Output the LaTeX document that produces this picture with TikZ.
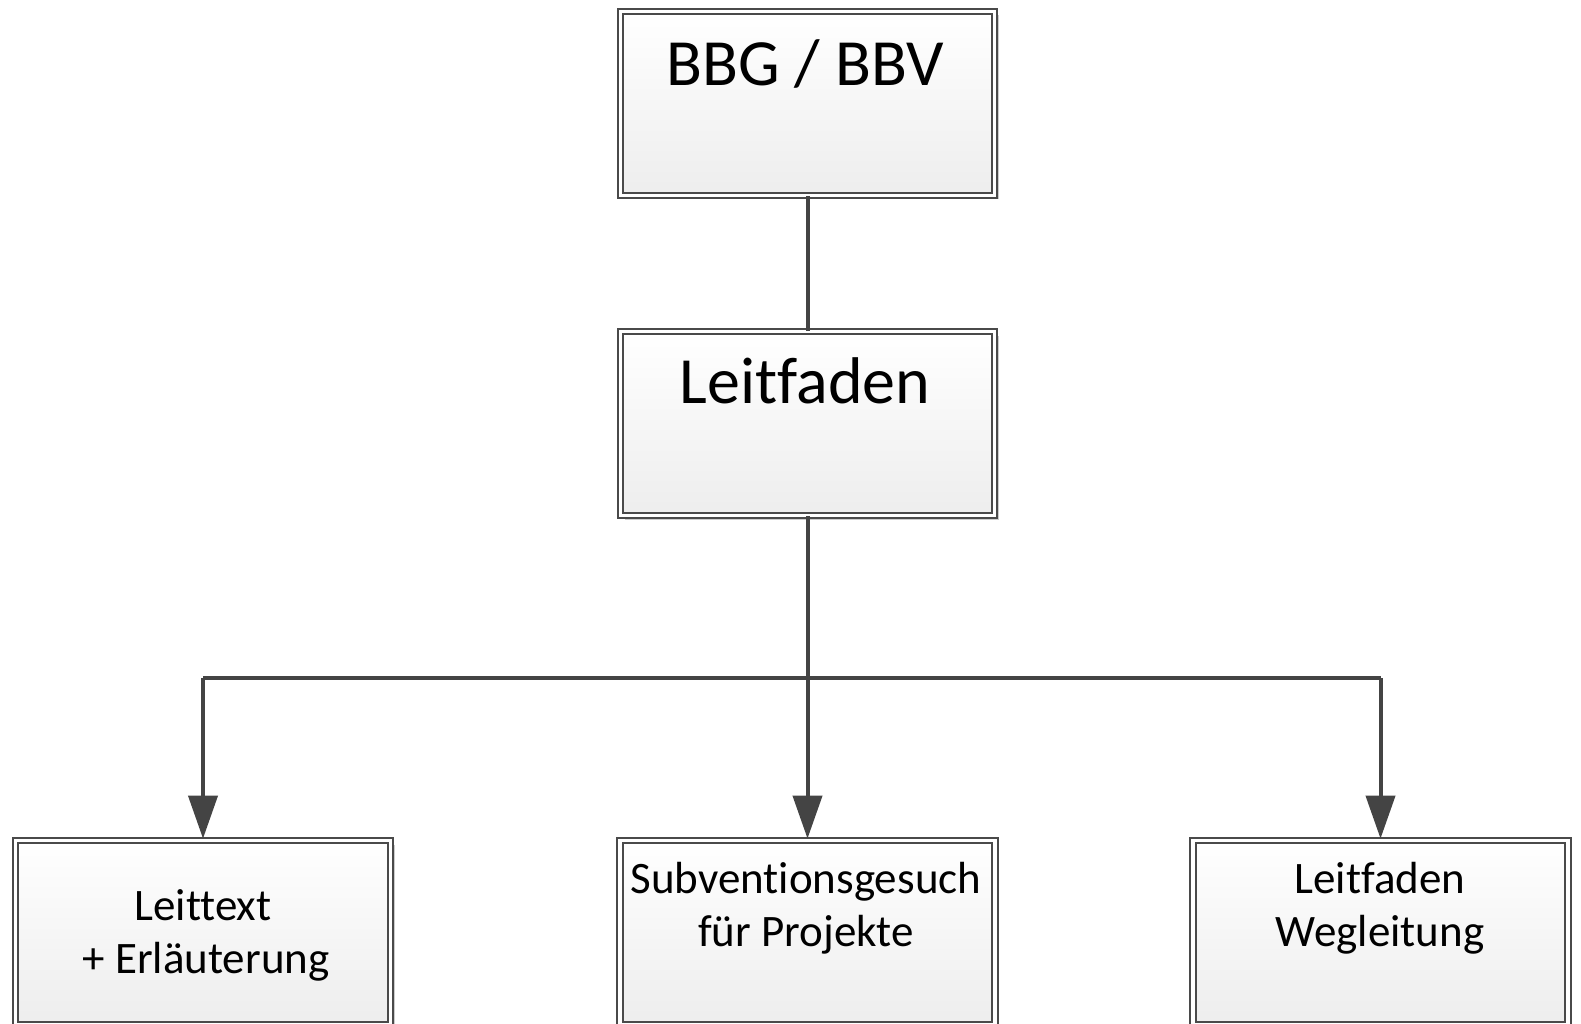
\documentclass[tikz,border=0pt]{standalone}
\usepackage{fontspec}
\setmainfont{Carlito}[Ligatures=NoCommon]
\usetikzlibrary{arrows.meta,shadows}
\definecolor{lineg}{HTML}{444444}
\definecolor{boxg}{HTML}{4A4A4A}
\tikzset{
  box/.style={rectangle, draw=boxg, line width=1.7pt, double=white, double distance=3.8pt,
    top color=white, bottom color=black!7, inner sep=0pt,
    drop shadow={shadow xshift=4pt, shadow yshift=-4pt, opacity=0.2, fill=black}},
  bigbox/.style={box, minimum width=374pt, minimum height=184pt},
  smallbox/.style={box, minimum width=375pt, minimum height=184pt},
  bigtxt/.style={font=\fontsize{66pt}{70pt}\selectfont, anchor=base, inner sep=0pt},
  smalltxt/.style={font=\fontsize{45pt}{53pt}\selectfont, anchor=base, inner sep=0pt},
  conn/.style={draw=lineg, line width=4pt},
  arr/.style={conn, -{Triangle[length=43pt,width=29pt]}, shorten >=1pt}
}
\begin{document}
\begin{tikzpicture}[x=1pt,y=-1pt]
\useasboundingbox (0,0) rectangle (1581,1024);
% boxes
\node[bigbox] (bbg) at (807.5,103.5) {};
\node[bigbox] (leit) at (807.5,423.5) {};
\node[smallbox] (lt) at (203,932.5) {};
\node[smallbox] (sub) at (807.5,932.5) {};
\node[smallbox] (weg) at (1380.5,932.5) {};
% texts
\node[bigtxt] (tbbg) at (805,86) {BBG / BBV};
\node[bigtxt] (tleit) at (805,403) {Leitfaden};
\node[smalltxt] (tlt1) at (203,920) {Leittext};
\node[smalltxt] (tlt2) at (206,973) {+ Erläuterung};
\node[smalltxt] (tsub1) at (806,893) {Subventionsgesuch};
\node[smalltxt] (tsub2) at (806,946) {für Projekte};
\node[smalltxt] (tweg1) at (1380,893) {Leitfaden};
\node[smalltxt] (tweg2) at (1380,946) {Wegleitung};
% connectors
\coordinate (hl) at (203,678);
\coordinate (hr) at (1380.5,678);
\draw[conn] (bbg.south) -- (leit.north);
\draw[arr] (leit.south) -- (sub.north);
\draw[conn] (hl) -- (hr);
\draw[arr] (hl) -- (lt.north);
\draw[arr] (hr) -- (weg.north);
\end{tikzpicture}
\end{document}
